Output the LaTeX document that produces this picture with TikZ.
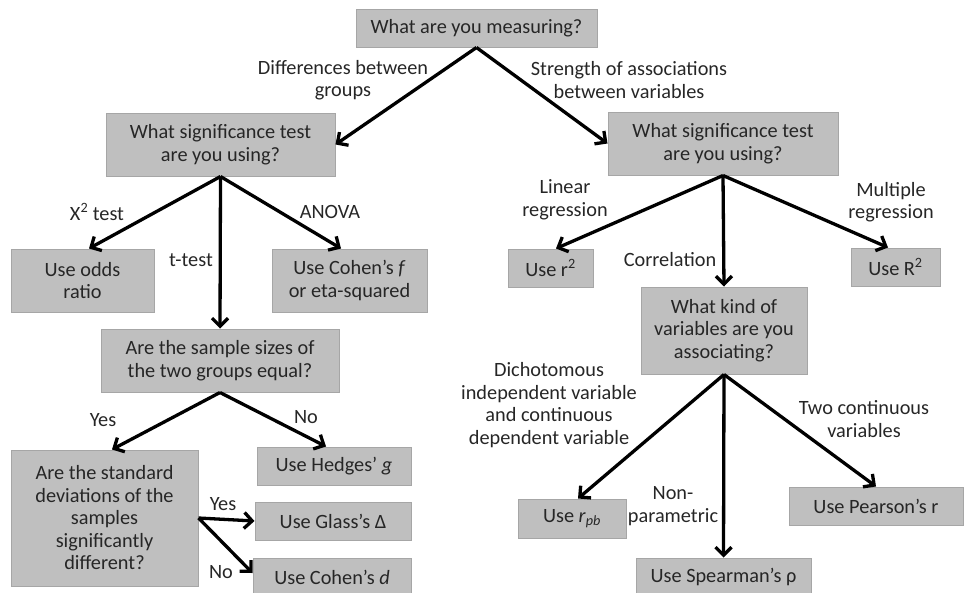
\documentclass[tikz,border=0pt]{standalone}
\usepackage{fontspec}
\setmainfont{Carlito}
\usetikzlibrary{arrows.meta}
\definecolor{boxfill}{RGB}{191,191,191}
\definecolor{boxline}{RGB}{166,166,166}
\definecolor{ink}{RGB}{38,38,38}
\tikzset{box/.style={draw=boxline,fill=boxfill,line width=1pt,align=center,inner sep=0pt},
 flow/.style={-{Straight Barb[length=8pt,width=16pt]},line width=3.3pt,black},
 lbl/.style={align=center,inner sep=0pt},
 every node/.style={font=\fontsize{20.3}{22.5}\selectfont,text=ink}}

\begin{document}
\begin{tikzpicture}[x=1pt,y=-1pt]
\useasboundingbox (0,0) rectangle (964,592);
\foreach \nm/\cx/\cy/\bw/\bh/\txt in {
measure/476.5/28/241/38/{What are you measuring?},
sigL/220.5/144.5/229/63/{What significance test\\are you using?},
sigR/723/143.5/230/63/{What significance test\\are you using?},
odds/82.5/280.5/143/63/{Use odds\\ratio},
cohenf/349.5/280.5/155/63/{Use Cohen's \textit{f}\\or eta-squared},
sizes/220/360.5/238/63/{Are the sample sizes of\\the two groups equal?},
rsq/550.5/268/85/38/{Use r\textsuperscript{2}},
Rsq/895.5/267/89/38/{Use R\textsuperscript{2}},
kind/724/330.5/166/87/{What kind of\\variables are you\\associating?},
sd/104.5/518/187/136/{Are the standard\\deviations of the\\samples\\significantly\\different?},
hedges/334/466/154/38/{Use Hedges' \textit{g}},
glass/333/521/156/38/{Use Glass's Δ},
cohend/332/577/158/38/{Use Cohen's \textit{d}},
rpb/572/518.5/108/39/{Use \textit{r}\textsubscript{\textit{pb}}},
spearman/723.5/577/175/38/{Use Spearman's ρ},
pearson/876/506/174/38/{Use Pearson's r}} {
\node[box,minimum width=\bw pt,minimum height=\bh pt] (\nm) at (\cx,\cy) {\txt};
}
\foreach \nm/\cx/\cy/\txt in {
diff/343/80/{Differences between\\groups},
strength/629/80/{Strength of associations\\between variables},
chi/97/212/{X\textsuperscript{2} test},
anova/330/212/{ANOVA},
ttest/191/260/{t-test},
linear/565/200/{Linear\\regression},
multiple/891/202/{Multiple\\regression},
correl/670/260/{Correlation},
yesA/103/420/{Yes},
noA/306/417/{No},
yesB/223/504/{Yes},
noB/221/572/{No},
dich/549/405/{Dichotomous\\independent variable\\and continuous\\dependent variable},
twocont/864/419/{Two continuous\\variables},
nonpar/673/506/{Non-\\parametric}} {
\node[lbl] (\nm) at (\cx,\cy) {\txt};
}
\foreach \from/\to/\dx/\dy in {measure.south/sigL.east/0/0,measure.south/sigR.west/0/0,
sigL.south/odds.north/6.5/0,sigL.south/sizes.north/0/0,sigL.south/cohenf.north/-8.5/0,
sigR.south/rsq.north/5.5/0,sigR.south/kind.north/0/0,sigR.south/Rsq.north/-7.5/0,
sizes.south/sd.north/7.5/0,sizes.south/hedges.north/-8/0,
sd.east/glass.west/0/0,sd.east/cohend.west/0/4,
kind.south/rpb.north/6/0,kind.south/spearman.north/0/0,kind.south/pearson.north/0/0}
\draw[flow] (\from) -- ([xshift=\dx pt,yshift=\dy pt]\to);
\end{tikzpicture}
\end{document}
